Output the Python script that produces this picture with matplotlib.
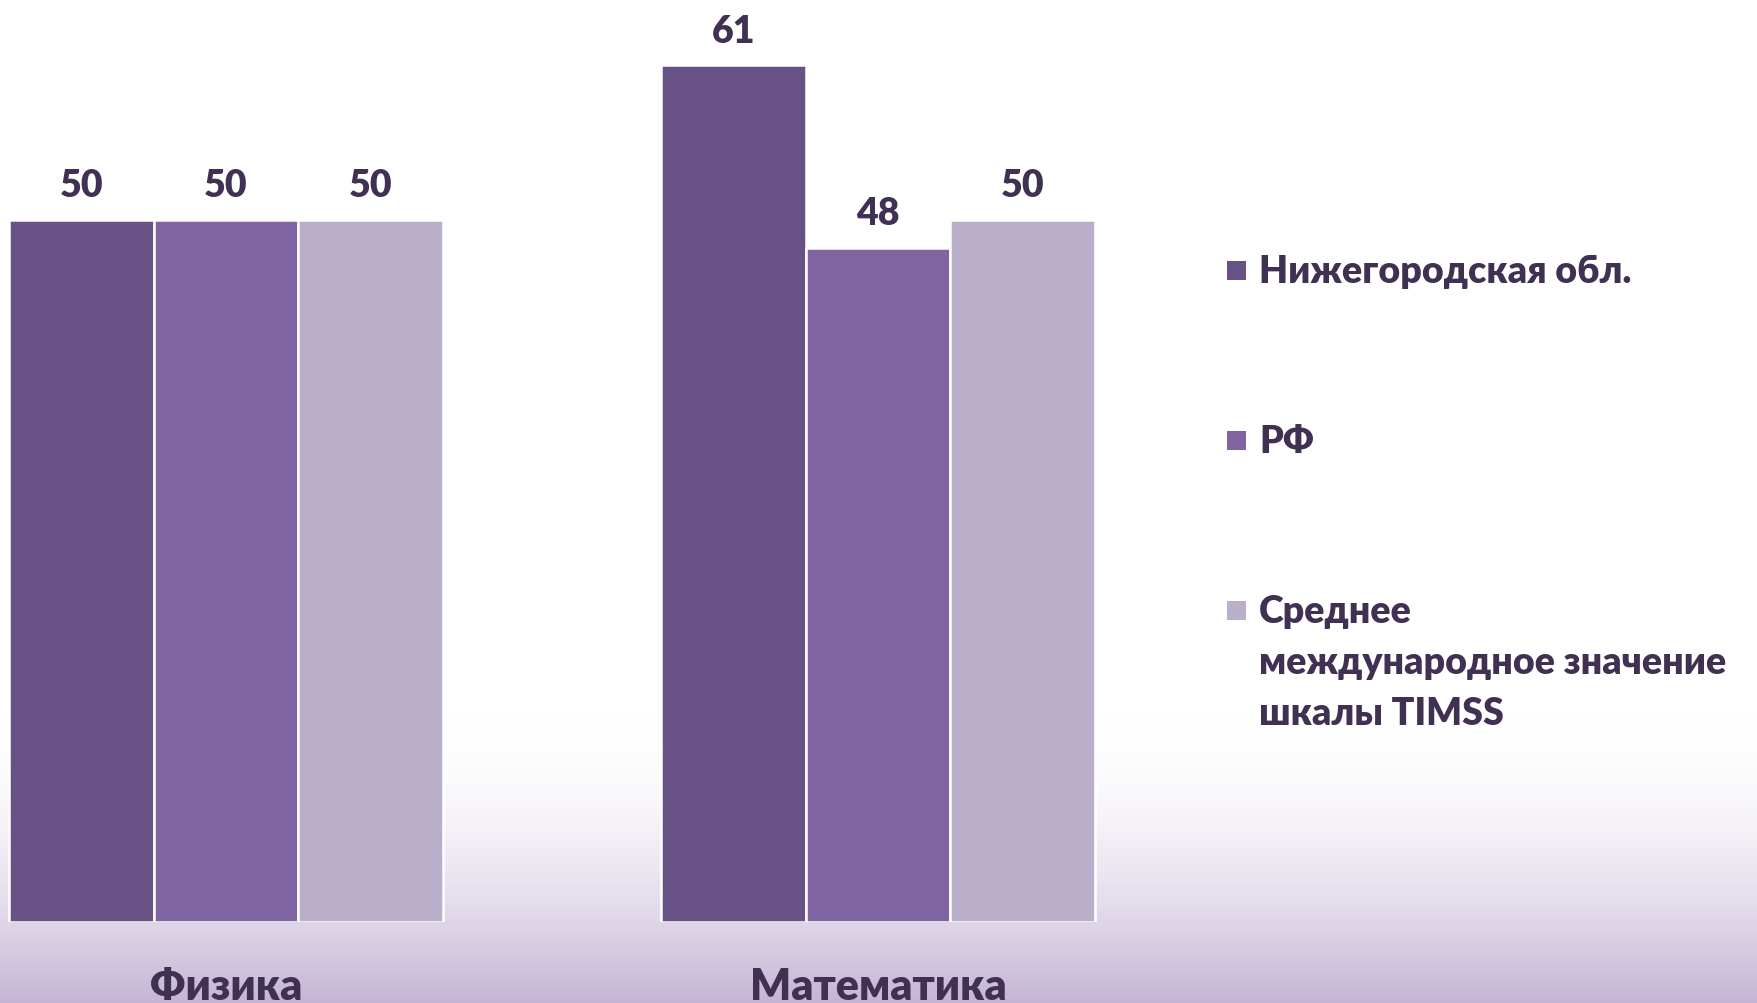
import numpy as np
import matplotlib.pyplot as plt
from matplotlib.patches import Rectangle

FONT = ['Lato', 'Open Sans', 'DejaVu Sans']
plt.rcParams['font.family'] = FONT
WEIGHT = 'heavy'

categories = ['Физика', 'Математика']
series = ['Нижегородская обл.', 'РФ', 'Среднее\nмеждународное значение\nшкалы TIMSS']
values = [
    [50, 61],   # Нижегородская обл.
    [50, 48],   # РФ
    [50, 50],   # Среднее международное значение
]
colors = ['#685285', '#8064A2', '#B9AFCA']
text_color = '#403152'

W, H = 1757, 1004
fig = plt.figure(figsize=(W / 100, H / 100), dpi=100)

# background gradient (white -> lavender near the bottom)
bg = fig.add_axes([0, 0, 1, 1], zorder=-1)
yy = np.arange(H)
t = np.clip((yy - 715) / (H - 715), 0, 1) ** 1.8
top = np.array([1.0, 1.0, 1.0])
bot = np.array([196, 181, 213]) / 255
grad = top[None, :] * (1 - t[:, None]) + bot[None, :] * t[:, None]
bg.imshow(grad[:, None, :], aspect='auto', extent=[0, 1, 0, 1], origin='upper')
bg.axis('off')

# main axes: baseline at y=923 px from top
ax = fig.add_axes([0, 81 / H, 1, 923 / H])
ax.patch.set_alpha(0)
px_per_group = 652
ax.set_xlim(-226 / px_per_group, (W - 226) / px_per_group)
ax.set_ylim(0, 923 / 14.05)

w = 144.7 / px_per_group
x = np.arange(len(categories))
for i, (vals, c) in enumerate(zip(values, colors)):
    bars = ax.bar(x + (i - 1) * w, vals, width=w, color=c,
                  edgecolor='white', linewidth=1.8)
    ax.bar_label(bars, padding=12.5, fontsize=27, color=text_color,
                 fontweight=WEIGHT)

ax.set_xticks(x)
ax.set_xticklabels(categories, fontsize=31, color=text_color, fontweight=WEIGHT)
ax.tick_params(axis='x', length=0, pad=32)
ax.set_yticks([])
for s in ax.spines.values():
    s.set_visible(False)

# legend drawn by hand to the right
sq = 19
for i, (name, c) in enumerate(zip(series, colors)):
    base = 283 + 170 * i
    cy = base - 12
    fig.patches.append(Rectangle(((1227) / W, 1 - (cy + sq / 2) / H), sq / W, sq / H,
                                 transform=fig.transFigure, facecolor=c,
                                 edgecolor='none'))
    for k, line in enumerate(name.split('\n')):
        fig.text(1259 / W, 1 - (base + 51 * k) / H, line, fontsize=27,
                 color=text_color, fontweight=WEIGHT, va='baseline', ha='left')

fig.savefig('out.png', dpi=100)
